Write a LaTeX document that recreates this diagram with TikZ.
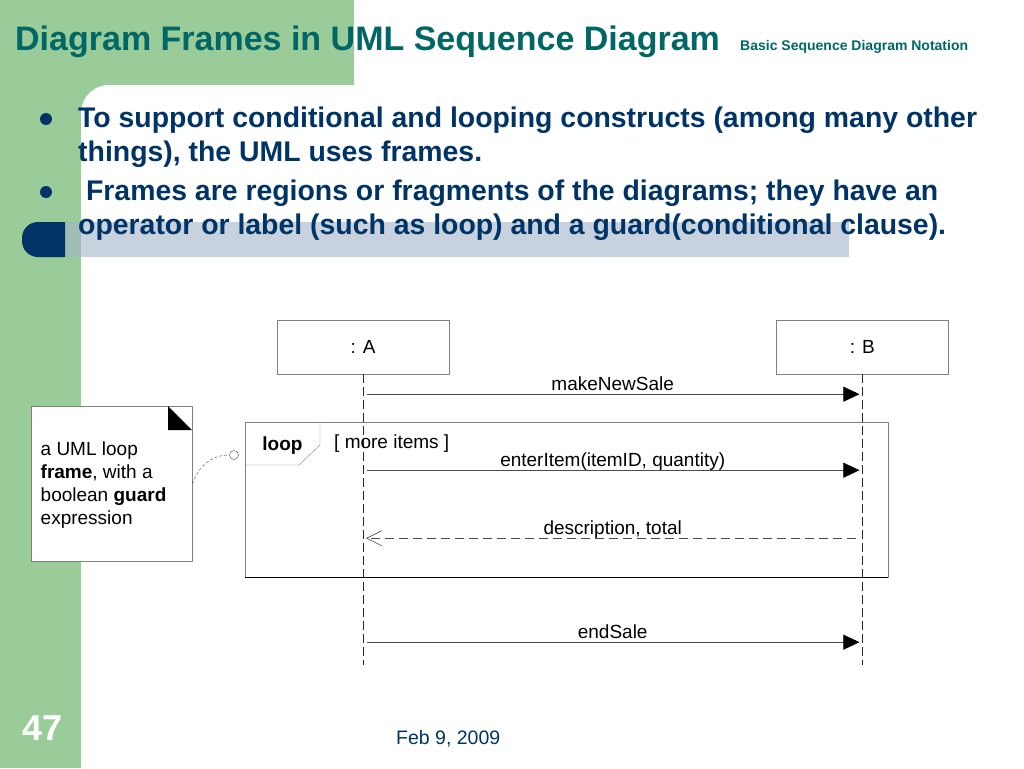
\documentclass[tikz,border=0pt]{standalone}
\usepackage{fontspec}
\setmainfont{Liberation Sans}
\usepackage{xcolor}
\usepackage{tikz}
\usetikzlibrary{shapes,arrows.meta,positioning}

\definecolor{slidegreen}{RGB}{153,204,153}
\definecolor{titleteal}{RGB}{0,102,102}
\definecolor{navy}{RGB}{0,51,102}
\definecolor{bandgrey}{RGB}{163,180,200}

\begin{document}
\begin{tikzpicture}[x=1pt, y=-1pt,
		lifebox/.style={rectangle, draw=gray, minimum width=172pt, minimum height=54pt, inner sep=0pt, font=\fontsize{19}{22}\selectfont},
		lifeline/.style={draw=black!85, dash pattern=on 9pt off 4pt, line width=0.9pt},
		msg/.style={draw=black!70, line width=0.6pt, -{Triangle[length=16pt,width=15pt,black]}, shorten <=3.5pt, shorten >=3pt},
		reply/.style={draw=black!70, line width=0.6pt, dash pattern=on 9pt off 5pt, -{Straight Barb[length=15pt,width=15pt]}, shorten <=6pt, shorten >=3pt},
		lbl/.style={midway, anchor=base, yshift=4pt, inner sep=0pt, font=\fontsize{19}{22}\selectfont},
		txt/.style={anchor=base west, inner sep=0pt, font=\fontsize{19}{22}\selectfont},
		bulletline/.style={anchor=base west, inner sep=0pt, text=navy, font=\fontsize{28.4}{34}\bfseries\selectfont},
		dot/.style={circle, fill=navy, inner sep=0pt, minimum size=12pt}]
	\useasboundingbox (0,0) rectangle (1024,768);
	
	% slide background
	\fill[slidegreen] (0,0) rectangle (81,768);
	\fill[slidegreen] (0,0) rectangle (354,85);
	\fill[slidegreen] (81,85) rectangle (109,113);
	\fill[white] (109,113) circle (28pt);
	\fill[bandgrey, opacity=0.6] (65,222) rectangle (849,257);
	\fill[navy, rounded corners=16pt] (65,222) -- (22,222) -- (22,257) -- (65,257);
	
	\node[anchor=base west, inner sep=0pt, text=titleteal, font=\fontsize{34}{40}\bfseries\selectfont] (title) at (15,50) {Diagram Frames in UML Sequence Diagram};
	\node[anchor=base west, inner sep=0pt, text=titleteal, font=\fontsize{14}{16}\bfseries\selectfont] (subtitle) at (740,50.5) {Basic Sequence Diagram Notation};
	
	\node[dot] (dot1) at (46,119) {};
	\node[bulletline] (line1a) at (78,127) {To support conditional and looping constructs (among many other};
	\node[bulletline] (line1b) at (78,161) {things), the UML uses frames.};
	\node[dot] (dot2) at (46,192) {};
	\node[bulletline] (line2a) at (78,200) {\ Frames are regions or fragments of the diagrams; they have an};
	\node[bulletline] (line2b) at (78,234) {operator or label (such as loop) and a guard(conditional clause).};
	
	\node[anchor=base west, inner sep=0pt, text=white, font=\fontsize{36}{40}\bfseries\selectfont] (pageno) at (22,740) {47};
	\node[anchor=base west, inner sep=0pt, text=navy, font=\fontsize{19.5}{22}\selectfont] (date) at (396,744) {Feb 9, 2009};
	
	% lifelines
	\node[lifebox] (objA) at (363,347) {: A};
	\node[lifebox, right=327pt of objA] (objB) {: B};
	\path (objA.south) ++(0,291) coordinate (endA);
	\path (objB.south) ++(0,291) coordinate (endB);
	\draw[lifeline] (objA.south) -- (endA);
	\draw[lifeline] (objB.south) -- (endB);
	
	\foreach \n/\dy in {1/20, 2/96, 3/164, 4/268} {
		\path (objA.south) ++(0,\dy) coordinate (a\n);
		\path (objB.south) ++(0,\dy) coordinate (b\n);
	}
	
	% loop frame
	\node[rectangle, draw=gray, minimum width=643pt, minimum height=155pt, anchor=north west, inner sep=0pt] (loopframe) at (245,422) {};
	\draw[black, line width=1.6pt] (loopframe.south west) -- (loopframe.south east);
	\draw[gray] (245,465) -- (299,465) -- (320,445) -- (320,422);
	\node[anchor=base, inner sep=0pt, font=\fontsize{19}{22}\bfseries\selectfont] (looplbl) at (282.5,450) {loop};
	\node[txt] (guard) at (334,448) {[ more items ]};
	
	% messages
	\draw[msg] (a1) -- (b1) node[lbl] {makeNewSale};
	\draw[msg] (a2) -- (b2) node[lbl] {enterItem(itemID, quantity)};
	\draw[reply] (b3) -- (a3) node[lbl] {description, total};
	\draw[msg] (a4) -- (b4) node[lbl] {endSale};
	
	% note
	\node[rectangle, draw=gray, fill=white, minimum width=161pt, minimum height=155pt, anchor=north west, inner sep=0pt] (note) at (31,406) {};
	\fill[black] (168,406) -- (168,430) -- (192,430) -- cycle;
	\foreach \i/\t in {0/{a UML loop}, 1/{\textbf{frame}, with a}, 2/{boolean \textbf{guard}}, 3/{expression}} {
		\node[txt] (noteline\i) at (40.5,455+23*\i) {\t};
	}
	\node[circle, draw=black!70, fill=white, minimum size=9pt, inner sep=0pt] (pin) at (234,455) {};
	\draw[black!70, dash pattern=on 3pt off 2pt] (note.east) to[out=70, in=180] (pin.west);
\end{tikzpicture}
\end{document}
